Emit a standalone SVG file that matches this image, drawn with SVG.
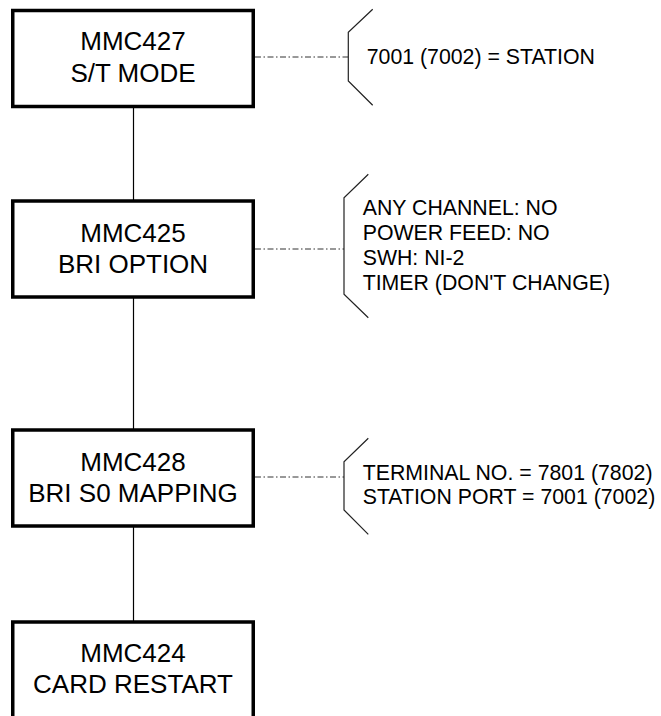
<svg xmlns="http://www.w3.org/2000/svg" width="661" height="716" viewBox="0 0 661 716">
  <style>
    .box { fill: #fff; stroke: #000; stroke-width: 3.5; }
    .title { font-family: "Liberation Sans", Arial, sans-serif; font-size: 26px; fill: #000; text-anchor: middle; }
    .note { font-family: "Liberation Sans", Arial, sans-serif; font-size: 21.3px; fill: #000; }
    .flow { stroke: #000; stroke-width: 1.2; fill: none; }
    .lead { stroke: #333; stroke-width: 1; fill: none; stroke-dasharray: 6 2.5 1.5 2.5; }
    .brace { stroke: #222; stroke-width: 1.2; fill: none; }
  </style>

  <!-- links between steps and their notes -->
  <g id="connectors">
    <line class="flow" x1="133.5" y1="106.5" x2="133.5" y2="201"/>
    <line class="flow" x1="133.5" y1="297" x2="133.5" y2="430"/>
    <line class="flow" x1="133.5" y1="526" x2="133.5" y2="622"/>
    <line class="lead" x1="255" y1="57" x2="348" y2="57"/>
    <line class="lead" x1="255" y1="249" x2="344" y2="249"/>
    <line class="lead" x1="255" y1="477" x2="344" y2="477"/>
  </g>

  <g id="mmc427">
    <rect class="box" x="12.75" y="10.5" width="240.5" height="96"/>
    <text class="title" x="133" y="50">MMC427</text>
    <text class="title" x="133" y="82">S/T MODE</text>
  </g>

  <g id="mmc425">
    <rect class="box" x="12.75" y="201" width="240.5" height="96"/>
    <text class="title" x="133" y="241.5">MMC425</text>
    <text class="title" x="133" y="273">BRI OPTION</text>
  </g>

  <g id="mmc428">
    <rect class="box" x="12.75" y="430" width="240.5" height="96"/>
    <text class="title" x="133" y="470.5">MMC428</text>
    <text class="title" x="133" y="501.5">BRI S0 MAPPING</text>
  </g>

  <g id="mmc424">
    <rect class="box" x="12.75" y="622" width="240.5" height="96"/>
    <text class="title" x="133" y="661.5">MMC424</text>
    <text class="title" x="133" y="692.5">CARD RESTART</text>
  </g>

  <g id="note-427">
    <polyline class="brace" points="372.7,9.3 348.3,32.3 348.3,81 372.7,105.3"/>
    <text class="note" x="366.7" y="64">7001 (7002) = STATION</text>
  </g>

  <g id="note-425">
    <polyline class="brace" points="368.3,174.3 344,197.7 344,294.3 368.3,317.7"/>
    <text class="note" x="362.7" y="214.5">ANY CHANNEL: NO</text>
    <text class="note" x="362.7" y="239.5">POWER FEED: NO</text>
    <text class="note" x="362.7" y="264.5">SWH: NI-2</text>
    <text class="note" x="362.7" y="289.5">TIMER (DON'T CHANGE)</text>
  </g>

  <g id="note-428">
    <polyline class="brace" points="368.3,438.3 344,461.7 344,510 368.3,534.3"/>
    <text class="note" x="362.7" y="480">TERMINAL NO. = 7801 (7802)</text>
    <text class="note" x="362.7" y="504">STATION PORT = 7001 (7002)</text>
  </g>
</svg>
